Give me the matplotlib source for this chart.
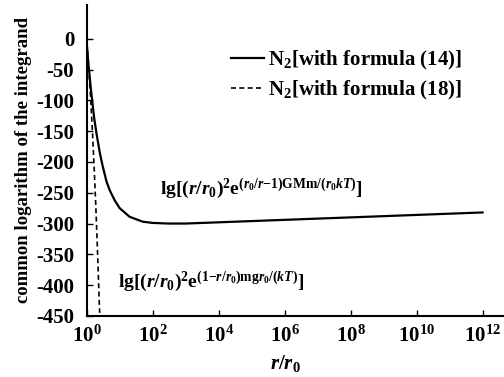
import numpy as np
import matplotlib
matplotlib.use("Agg")
import matplotlib.pyplot as plt

# values
r_solid = [1.0, 1.05, 1.1, 1.2, 1.3, 1.5, 1.7, 2.0, 2.5, 3.0, 4.0, 5.0, 7.0, 10.0,
           20.0, 50.0, 1e2, 3e2, 1e3, 1e4, 1e6, 1e8, 1e10, 1e12]
lg_solid = [-5, -20, -35, -55, -75, -105, -130, -155, -185, -205, -232, -246, -262, -275,
            -289, -297, -299, -300, -300, -298, -294, -290, -286, -282]

r_dashed = [1.0, 1.1, 1.2, 1.35, 1.5, 1.7, 1.9, 2.1, 2.3, 2.47]
lg_dashed = [-5, -31, -61, -107, -153, -214, -275, -336, -397, -445]

x_ticks = [1e0, 1e2, 1e4, 1e6, 1e8, 1e10, 1e12]
x_ticklabels = [r"$10^{0}$", r"$10^{2}$", r"$10^{4}$", r"$10^{6}$", r"$10^{8}$",
                r"$10^{10}$", r"$10^{12}$"]
y_ticks = [0, -50, -100, -150, -200, -250, -300, -350, -400, -450]

plt.rcParams.update({
    "font.family": "Liberation Serif",
    "font.weight": "bold",
    "axes.labelweight": "bold",
    "mathtext.fontset": "custom",
    "mathtext.rm": "Liberation Serif:bold",
    "mathtext.it": "Liberation Serif:bold:italic",
    "mathtext.bf": "Liberation Serif:bold",
    "axes.unicode_minus": False,
    "axes.linewidth": 1.5,
})

fig = plt.figure(figsize=(5.04, 3.77), dpi=100)
ax = fig.add_axes([0.172, 0.162, 0.828, 0.825])

ax.plot(r_solid, lg_solid, "k-", linewidth=1.6,
        label=r"N$_2$[with formula (14)]")
ax.plot(r_dashed, lg_dashed, "k--", linewidth=1.2, dashes=(3, 2),
        label=r"N$_2$[with formula (18)]")

ax.set_xscale("log")
ax.set_xlim(1, 10 ** 12.65)
ax.set_ylim(-450, 55)
ax.set_xticks(x_ticks)
ax.set_xticklabels(x_ticklabels, fontsize=15)
ax.minorticks_off()
ax.set_yticks(y_ticks)
ax.set_yticklabels([str(v) for v in y_ticks], fontsize=15)
ax.tick_params(direction="in", length=4, width=1.0)
ax.tick_params(axis="x", pad=7)
ax.tick_params(axis="y", pad=9)

for side in ("top", "right"):
    ax.spines[side].set_visible(False)

ax.set_xlabel(r"$r/r_0$", fontsize=15)
ax.xaxis.set_label_coords(0.475, -0.12)
ax.set_ylabel("common logarithm of the integrand", fontsize=13.5, labelpad=3)

ax.text(165, -253,
        r"lg[$(r/r_0)^2$e$^{(r_0/r{-}1)\mathrm{GMm}/(r_0kT)}$]",
        fontsize=14, ha="left", va="baseline")
ax.text(8.6, -403,
        r"lg[$(r/r_0)^2$e$^{(1{-}r/r_0)\mathrm{mg}r_0/(kT)}$]",
        fontsize=14, ha="left", va="baseline")

ax.legend(loc="upper left", bbox_to_anchor=(0.3, 0.92), frameon=False,
          fontsize=15, handlelength=1.6, handletextpad=0.2, labelspacing=0.35)

fig.savefig("out.png", dpi=100)
